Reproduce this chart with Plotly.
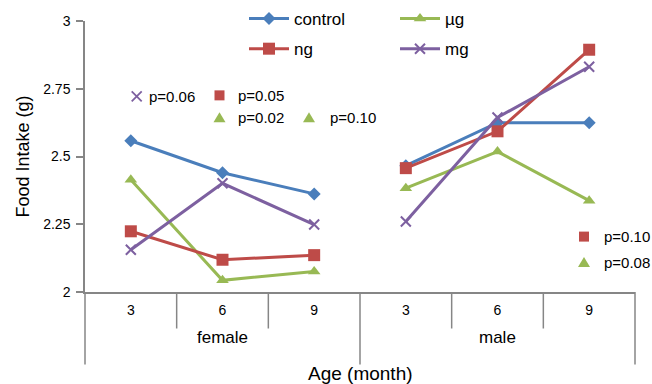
import plotly.graph_objects as go

# ---- data ----
sexes = ["female", "female", "female", "male", "male", "male"]
ages = ["3", "6", "9", "3", "6", "9"]
control = [2.558, 2.440, 2.362, 2.466, 2.625, 2.625]
ug = [2.414, 2.043, 2.076, 2.383, 2.518, 2.337]
ng = [2.224, 2.119, 2.136, 2.457, 2.593, 2.894]
mg = [2.156, 2.401, 2.249, 2.260, 2.644, 2.831]
y_tick_vals = [2, 2.25, 2.5, 2.75, 3]
y_tick_text = ["2", "2.25", "2.5", "2.75", "3"]
groups = ["female", "male"]

FONT = "Liberation Sans, Arial, sans-serif"
GREY = "#868686"

# plot-area geometry (pixels) used for annotation placement
L, R, T, B = 85, 17, 21, 91.5
W, H = 652, 384
PW, PH = W - L - R, H - T - B


def px(x):
    return (x - L) / PW


def py(y):
    return (H - B - y) / PH


idx = list(range(len(ages)))


def split(vals):
    # break the line between the female and male groups
    xs, ys = [], []
    for i, v in enumerate(vals):
        if i > 0 and sexes[i] != sexes[i - 1]:
            xs.append(None)
            ys.append(None)
        xs.append(idx[i])
        ys.append(v)
    return xs, ys


series = [
    ("control", control, "#4A7EBB", dict(symbol="diamond", size=10), "legend"),
    ("µg", ug, "#98B954", dict(symbol="triangle-up", size=11), "legend2"),
    ("ng", ng, "#BE4B48", dict(symbol="square", size=12), "legend"),
    ("mg", mg, "#7D60A0", dict(symbol="x-thin", size=10,
                               line=dict(width=2, color="#7D60A0")), "legend2"),
]

fig = go.Figure()
for name, vals, color, mk, lg in series:
    xs, ys = split(vals)
    marker = dict(color=color, **mk)
    fig.add_trace(go.Scatter(
        x=xs, y=ys, name=name, mode="lines+markers",
        line=dict(color=color, width=3), marker=marker,
        connectgaps=False, legend=lg, legendgroup=name,
    ))

shapes = []
# category boundary lines of the two-level axis
n = len(ages)
for k in range(n + 1):
    outer = k == 0 or k == n or sexes[k] != sexes[k - 1]
    shapes.append(dict(
        type="line", xref="paper", yref="paper",
        ysizemode="pixel", yanchor=0,
        x0=k / n, x1=k / n, y0=0, y1=-(72.5 if outer else 36.5),
        line=dict(color=GREY, width=1.5),
    ))

annotations = []
for g in groups:
    members = [i for i in idx if sexes[i] == g]
    annotations.append(dict(
        x=sum(members) / len(members), xref="x", y=0, yref="paper",
        yshift=-45, yanchor="middle", xanchor="center", showarrow=False,
        text=g, font=dict(family=FONT, size=17, color="#000"),
    ))
annotations.append(dict(
    x=0.5, xref="paper", y=0, yref="paper", yshift=-81, yanchor="middle",
    xanchor="center", showarrow=False, text="Age (month)",
    font=dict(family=FONT, size=19, color="#000"),
))
annotations.append(dict(
    x=0, xref="paper", xshift=-63, y=0.5, yref="paper", textangle=-90,
    xanchor="center", yanchor="middle", showarrow=False,
    text="Food Intake (g)", font=dict(family=FONT, size=18, color="#000"),
))

# p-value notes
p_notes = [
    ("x", "#7D60A0", 136.7, 96.5, "p=0.06", 146.5),
    ("sq", "#BE4B48", 219.5, 95.5, "p=0.05", 235.5),
    ("tri", "#98B954", 219.5, 118, "p=0.02", 235.5),
    ("tri", "#98B954", 309, 118, "p=0.10", 328),
    ("sq", "#BE4B48", 584, 237, "p=0.10", 601.5),
    ("tri", "#98B954", 584, 263, "p=0.08", 601.5),
]
for sym, col, sx, sy, txt, tx in p_notes:
    base = dict(xref="paper", yref="paper", xsizemode="pixel", ysizemode="pixel",
                xanchor=px(sx), yanchor=py(sy))
    if sym == "sq":
        shapes.append(dict(type="rect", x0=-5, x1=5, y0=-5, y1=5,
                           fillcolor=col, line=dict(width=0), **base))
    elif sym == "tri":
        shapes.append(dict(type="path", path="M-6,-4.5 L6,-4.5 L0,5.5 Z",
                           fillcolor=col, line=dict(width=0), **base))
    else:
        shapes.append(dict(type="path", path="M-5,-5 L5,5 M-5,5 L5,-5",
                           line=dict(color=col, width=1.8), **base))
    annotations.append(dict(
        x=px(tx), y=py(sy), xref="paper", yref="paper", xanchor="left",
        yanchor="middle", showarrow=False, text=txt,
        font=dict(family=FONT, size=15, color="#000"),
    ))

legend_common = dict(
    orientation="v", xanchor="left", yanchor="top",
    bgcolor="rgba(0,0,0,0)", font=dict(family=FONT, size=17, color="#000"),
    traceorder="grouped", tracegroupgap=5, itemwidth=40,
)

fig.update_layout(
    width=W, height=H,
    margin=dict(l=L, r=R, t=T, b=B, autoexpand=False),
    paper_bgcolor="white", plot_bgcolor="white",
    font=dict(family=FONT, color="#000"),
    showlegend=True,
    legend=dict(x=px(244), y=py(1), **legend_common),
    legend2=dict(x=px(395), y=py(1), **legend_common),
    xaxis=dict(
        range=[-0.5, 5.5], tickmode="array", tickvals=idx, ticktext=ages,
        ticks="", showline=True, linecolor=GREY, linewidth=1.5,
        showgrid=False, zeroline=False, ticklabelstandoff=4,
        tickfont=dict(family=FONT, size=14, color="#000"),
    ),
    yaxis=dict(
        range=[2, 3], tickmode="array", tickvals=y_tick_vals, ticktext=y_tick_text,
        ticks="outside", ticklen=7, tickwidth=1.5, tickcolor=GREY,
        showline=True, linecolor=GREY, linewidth=1.5,
        showgrid=False, zeroline=False, ticklabelstandoff=3,
        tickfont=dict(family=FONT, size=14, color="#000"),
    ),
    shapes=shapes, annotations=annotations,
)

fig.write_html(
    "out.html",
    config={"displayModeBar": False},
    post_script="document.body.style.margin='0';document.body.style.overflow='hidden';",
)
